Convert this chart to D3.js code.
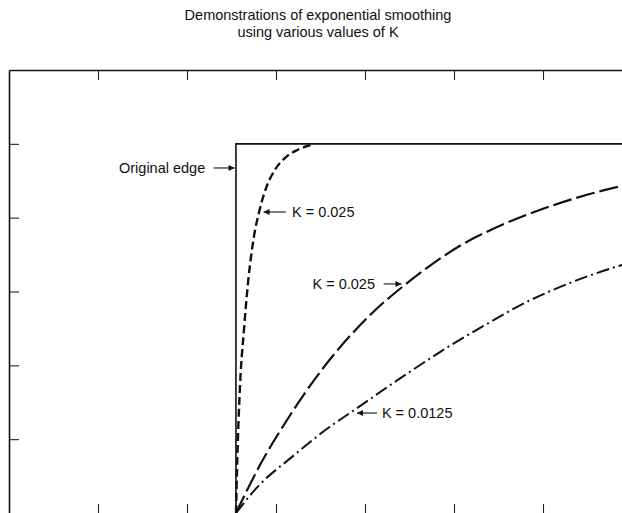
<!DOCTYPE html>
<html>
<head>
<meta charset="utf-8">
<script src="https://cdn.jsdelivr.net/npm/d3@7"></script>
<style>
  html, body { margin: 0; padding: 0; background: #fff; }
  svg { display: block; }
  text { font-family: "Liberation Sans", Arial, sans-serif; fill: #111; }
</style>
</head>
<body>
<svg id="chart" width="622" height="513"></svg>
<script>
// ---- Data (x in tick-spacing units, y in tick units) ----
const titleLines = ["Demonstrations of exponential smoothing", "using various values of K"];
const xTicks = [1, 2, 3, 4, 5, 6];
const yTicks = [1, 2, 3, 4, 5];

// original edge (step)
const edgeX = [2.55, 2.55, 7.2];
const edgeY = [0, 5, 5];

// K = 0.025 (fast, short dashes) — label as printed
const fastX = [2.551, 2.562, 2.596, 2.640, 2.685, 2.753, 2.809, 2.888, 2.989, 3.112, 3.247, 3.404];
const fastY = [0, 0.58, 1.73, 2.48, 3.11, 3.75, 4.07, 4.40, 4.65, 4.82, 4.92, 4.99];

// K = 0.025 (long dashes)
const midX = [2.55, 2.843, 3.124, 3.416, 4.090, 4.427, 4.697, 5.067, 5.517, 6.0, 6.494, 6.888, 7.0];
const midY = [0, 0.70, 1.26, 1.78, 2.72, 3.07, 3.32, 3.62, 3.89, 4.12, 4.31, 4.43, 4.46];

// K = 0.0125 (dash-dot)
const slowX = [2.55, 2.798, 3.180, 3.551, 3.910, 4.427, 4.921, 5.326, 5.820, 6.270, 6.888, 7.0];
const slowY = [0, 0.36, 0.76, 1.12, 1.42, 1.85, 2.24, 2.53, 2.86, 3.10, 3.36, 3.40];

const labelTexts = ["Original edge", "K = 0.025", "K = 0.025", "K = 0.0125"];

// ---- Drawing ----
const svg = d3.select("#chart");
const x = d3.scaleLinear().domain([0, 7]).range([9, 632]);
const y = d3.scaleLinear().domain([0, 6]).range([513, 70]);

// Title
svg.append("text")
  .attr("x", 318).attr("y", 20)
  .attr("text-anchor", "middle")
  .style("font-size", "14.5px")
  .selectAll("tspan").data(titleLines).join("tspan")
  .attr("x", 318).attr("dy", (d, i) => i === 0 ? 0 : 17)
  .text(d => d);

// Frame axes
const axG = svg.append("g");
axG.append("g").attr("transform", "translate(0,70)")
  .call(d3.axisTop(x).tickValues(xTicks).tickSize(-10).tickSizeOuter(0).tickFormat(""));
axG.append("g").attr("transform", "translate(9,0)")
  .call(d3.axisLeft(y).tickValues(yTicks).tickSize(-10).tickSizeOuter(0).tickFormat(""));
axG.append("g").attr("transform", "translate(0,514)")
  .call(d3.axisBottom(x).tickValues(xTicks).tickSize(-10).tickSizeOuter(0).tickFormat(""));
axG.selectAll(".domain").attr("stroke", "#111").attr("stroke-width", 1.6);
axG.selectAll(".tick line").attr("stroke", "#222").attr("stroke-width", 1.1);

// Arrow marker
const defs = svg.append("defs");
defs.append("marker")
  .attr("id", "ah").attr("viewBox", "0 0 10 10")
  .attr("refX", 10).attr("refY", 5)
  .attr("markerWidth", 8).attr("markerHeight", 6)
  .attr("markerUnits", "userSpaceOnUse")
  .attr("orient", "auto")
  .append("path").attr("d", "M0,0 L10,5 L0,10 Z").attr("fill", "#111");

const zip = (a, b) => a.map((v, i) => [v, b[i]]);
const straight = d3.line().x(d => x(d[0])).y(d => y(d[1]));
const smooth = d3.line().x(d => x(d[0])).y(d => y(d[1])).curve(d3.curveMonotoneX);

const plot = svg.append("g");

// Original edge
plot.append("path").attr("d", straight(zip(edgeX, edgeY)))
  .attr("fill", "none").attr("stroke", "#111").attr("stroke-width", 1.6);

// Fast curve (short dashes)
plot.append("path").attr("d", smooth(zip(fastX, fastY)))
  .attr("fill", "none").attr("stroke", "#111").attr("stroke-width", 2.4)
  .attr("stroke-dasharray", "8,4");

// Mid curve (long dashes)
plot.append("path").attr("d", smooth(zip(midX, midY)))
  .attr("fill", "none").attr("stroke", "#111").attr("stroke-width", 2.2)
  .attr("stroke-dasharray", "19,5");

// Slow curve (dash-dot)
plot.append("path").attr("d", smooth(zip(slowX, slowY)))
  .attr("fill", "none").attr("stroke", "#111").attr("stroke-width", 2.0)
  .attr("stroke-dasharray", "13,4,2,4");

// Annotations (positions in data units)
const ann = [
  { text: labelTexts[0], tx: 2.205, anchor: "end",   ay: 4.673, a0: 2.30, a1: 2.535 },
  { text: labelTexts[1], tx: 3.18,  anchor: "start", ay: 4.077, a0: 3.11, a1: 2.86 },
  { text: labelTexts[2], tx: 4.112, anchor: "end",   ay: 3.102, a0: 4.21, a1: 4.41 },
  { text: labelTexts[3], tx: 4.19,  anchor: "start", ay: 1.354, a0: 4.135, a1: 3.91 }
];
const ag = svg.append("g");
ann.forEach(a => {
  ag.append("text")
    .attr("x", x(a.tx)).attr("y", y(a.ay))
    .attr("dy", "0.36em")
    .attr("text-anchor", a.anchor)
    .style("font-size", "14.5px")
    .text(a.text);
  ag.append("line")
    .attr("x1", x(a.a0)).attr("y1", y(a.ay))
    .attr("x2", x(a.a1)).attr("y2", y(a.ay))
    .attr("stroke", "#111").attr("stroke-width", 1.1)
    .attr("marker-end", "url(#ah)");
});
</script>
</body>
</html>
